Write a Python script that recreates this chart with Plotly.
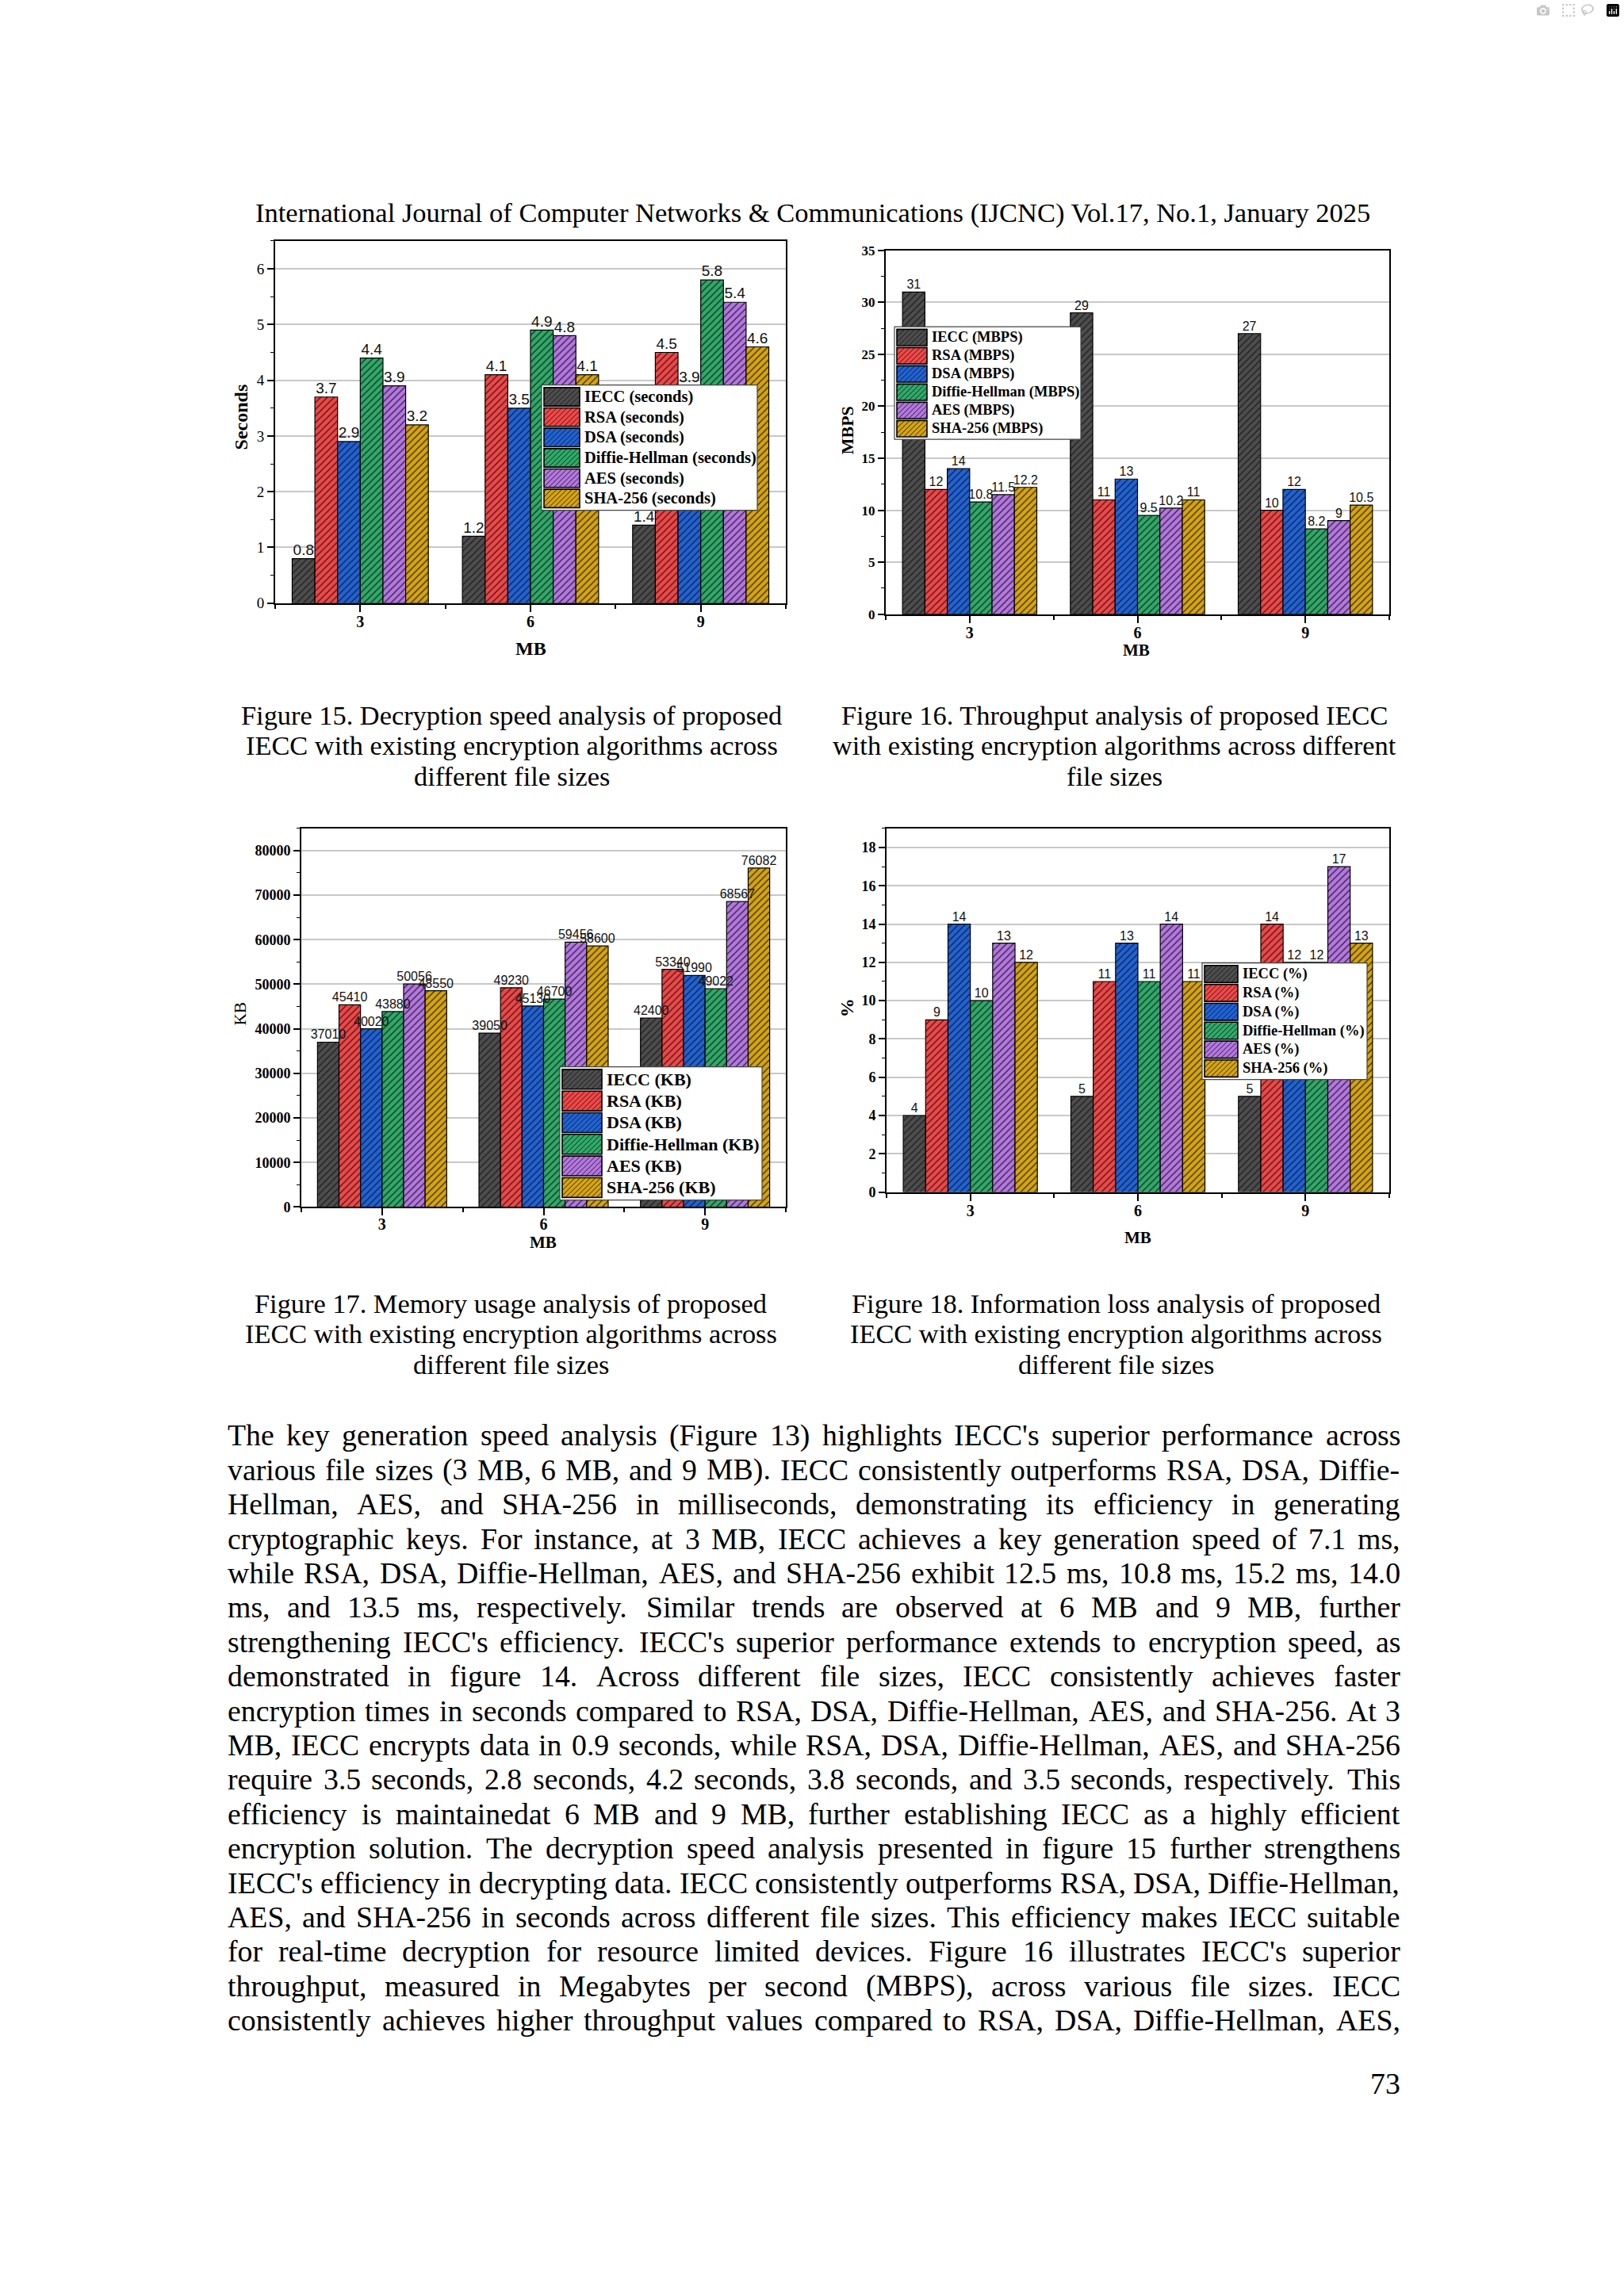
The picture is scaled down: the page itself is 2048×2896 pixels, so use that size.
import plotly.graph_objects as go

PAGE_W, PAGE_H = 2048, 2896

# ---------------- data ----------------
categories = [3, 6, 9]  # MB
series = ['IECC', 'RSA', 'DSA', 'Diffie-Hellman', 'AES', 'SHA-256']
colors = ['#4d4d4d', '#f24646', '#1f62d8', '#2eaa68', '#b476e2', '#d6a40c']

decryption_seconds = [
    [0.8, 1.2, 1.4],
    [3.7, 4.1, 4.5],
    [2.9, 3.5, 3.9],
    [4.4, 4.9, 5.8],
    [3.9, 4.8, 5.4],
    [3.2, 4.1, 4.6],
]
throughput_mbps = [
    [31, 29, 27],
    [12, 11, 10],
    [14, 13, 12],
    [10.8, 9.5, 8.2],
    [11.5, 10.2, 9],
    [12.2, 11, 10.5],
]
memory_kb = [
    [37010, 39050, 42400],
    [45410, 49230, 53340],
    [40020, 45130, 51990],
    [43880, 46700, 49022],
    [50056, 59456, 68567],
    [48550, 58600, 76082],
]
info_loss_pct = [
    [4, 5, 5],
    [9, 11, 14],
    [14, 13, 12],
    [10, 11, 12],
    [13, 14, 17],
    [12, 11, 13],
]

header_text = ("International Journal of Computer Networks &amp; Communications (IJCNC) "
               "Vol.17, No.1, January 2025")
captions = [
    ["Figure 15. Decryption speed analysis of proposed",
     "IECC with existing encryption algorithms across",
     "different file sizes"],
    ["Figure 16. Throughput analysis of proposed IECC",
     "with existing encryption algorithms across different",
     "file sizes"],
    ["Figure 17. Memory usage analysis of proposed",
     "IECC with existing encryption algorithms across",
     "different file sizes"],
    ["Figure 18. Information loss analysis of proposed",
     "IECC with existing encryption algorithms across",
     "different file sizes"],
]
body_lines = [
    "The key generation speed analysis (Figure 13) highlights IECC's superior performance across",
    "various file sizes (3 MB, 6 MB, and 9 MB). IECC consistently outperforms RSA, DSA, Diffie-",
    "Hellman, AES, and SHA-256 in milliseconds, demonstrating its efficiency in generating",
    "cryptographic keys. For instance, at 3 MB, IECC achieves a key generation speed of 7.1 ms,",
    "while RSA, DSA, Diffie-Hellman, AES, and SHA-256 exhibit 12.5 ms, 10.8 ms, 15.2 ms, 14.0",
    "ms, and 13.5 ms, respectively. Similar trends are observed at 6 MB and 9 MB, further",
    "strengthening IECC's efficiency. IECC's superior performance extends to encryption speed, as",
    "demonstrated in figure 14. Across different file sizes, IECC consistently achieves faster",
    "encryption times in seconds compared to RSA, DSA, Diffie-Hellman, AES, and SHA-256. At 3",
    "MB, IECC encrypts data in 0.9 seconds, while RSA, DSA, Diffie-Hellman, AES, and SHA-256",
    "require 3.5 seconds, 2.8 seconds, 4.2 seconds, 3.8 seconds, and 3.5 seconds, respectively. This",
    "efficiency is maintainedat 6 MB and 9 MB, further establishing IECC as a highly efficient",
    "encryption solution. The decryption speed analysis presented in figure 15 further strengthens",
    "IECC's efficiency in decrypting data. IECC consistently outperforms RSA, DSA, Diffie-Hellman,",
    "AES, and SHA-256 in seconds across different file sizes. This efficiency makes IECC suitable",
    "for real-time decryption for resource limited devices. Figure 16 illustrates IECC's superior",
    "throughput, measured in Megabytes per second (MBPS), across various file sizes. IECC",
    "consistently achieves higher throughput values compared to RSA, DSA, Diffie-Hellman, AES,",
]
page_number = "73"

# ---------------- helpers ----------------
def px(x):
    return x / PAGE_W


def py(y):
    return 1 - y / PAGE_H


SERIF = "Liberation Serif"
SANS = "Liberation Sans"

# Times-Roman advance widths (per 1000 em) for text layout
TIMES = {' ': 250, '!': 333, '"': 408, '#': 500, '$': 500, '%': 833, '&': 778, "'": 180,
         '(': 333, ')': 333, '*': 500, '+': 564, ',': 250, '-': 333, '.': 250, '/': 278,
         ':': 278, ';': 278, '=': 564, '?': 444, '@': 921,
         'A': 722, 'B': 667, 'C': 667, 'D': 722, 'E': 611, 'F': 556, 'G': 722, 'H': 722,
         'I': 333, 'J': 389, 'K': 722, 'L': 611, 'M': 889, 'N': 722, 'O': 722, 'P': 556,
         'Q': 722, 'R': 667, 'S': 556, 'T': 611, 'U': 722, 'V': 722, 'W': 944, 'X': 722,
         'Y': 722, 'Z': 611,
         'a': 444, 'b': 500, 'c': 444, 'd': 500, 'e': 444, 'f': 333, 'g': 500, 'h': 500,
         'i': 278, 'j': 278, 'k': 500, 'l': 278, 'm': 778, 'n': 500, 'o': 500, 'p': 500,
         'q': 500, 'r': 333, 's': 389, 't': 278, 'u': 500, 'v': 500, 'w': 722, 'x': 500,
         'y': 500, 'z': 444}
for d in '0123456789':
    TIMES[d] = 500


def em_width(s):
    s = s.replace('&amp;', '&')
    return sum(TIMES.get(ch, 500) for ch in s) / 1000.0


annotations = []
shapes = []


def add_text(text, x, y, size, family=SERIF, bold=False, xanchor='center',
             yanchor='middle', angle=0, color='black'):
    annotations.append(dict(
        text=text, x=px(x), y=py(y), xref='paper', yref='paper', showarrow=False,
        xanchor=xanchor, yanchor=yanchor, textangle=angle, borderpad=0, borderwidth=0,
        font=dict(family=family, size=size, color=color, weight='bold' if bold else 'normal')))


def hatch_path(xa, ya, xb, yb, step):
    # "/" lines: x + y = k in pixel space (y downward)
    parts = []
    k = xa + ya + step / 2.0
    while k < xb + yb:
        x_start = max(xa, k - yb)
        x_end = min(xb, k - ya)
        if x_end > x_start:
            parts.append("M %.5f %.5f L %.5f %.5f" % (px(x_start), py(k - x_start),
                                                    px(x_end), py(k - x_end)))
        k += step
    return " ".join(parts)


def draw_legend(lg, unit):
    x0, x1, y0, y1 = lg['x0'], lg['x1'], lg['y0'], lg['y1']
    shapes.append(dict(type='rect', xref='paper', yref='paper', x0=px(x0), x1=px(x1),
                       y0=py(y1), y1=py(y0), fillcolor='white',
                       line=dict(color='#444444', width=1.2), layer='above'))
    n = len(series)
    row = (y1 - y0 - 4) / n
    sx0, sx1 = x0 + 3, lg['tx'] - 6
    for i, (name, col) in enumerate(zip(series, colors)):
        ry0 = y0 + 2 + i * row + 1.2
        ry1 = y0 + 2 + (i + 1) * row - 1.2
        shapes.append(dict(type='rect', xref='paper', yref='paper', x0=px(sx0), x1=px(sx1),
                           y0=py(ry1), y1=py(ry0), fillcolor=col,
                           line=dict(color='black', width=0), layer='above'))
        shapes.append(dict(type='path', xref='paper', yref='paper',
                           path=hatch_path(sx0, ry0, sx1, ry1, 6.5),
                           line=dict(color='rgba(20,20,20,0.85)', width=1), layer='above'))
        shapes.append(dict(type='rect', xref='paper', yref='paper', x0=px(sx0), x1=px(sx1),
                           y0=py(ry1), y1=py(ry0), fillcolor='rgba(0,0,0,0)',
                           line=dict(color='black', width=1.6), layer='above'))
        add_text("%s (%s)" % (name, unit), lg['tx'], (ry0 + ry1) / 2, lg['size'],
                 bold=True, xanchor='left')


# ---------------- chart specs (layout only) ----------------
BARGAP = 0.2
charts = [
    dict(values=decryption_seconds, unit='seconds', x0=347, x1=991, y0=297, y1=757,
         yrange=[0, 6.5], dtick=1, minor=0.5, ybold=False, ysize=19, lblsize=19,
         ytitle='Seconds', ytitle_xy=(304, 521), ytitle_size=24, ytitle_bold=True,
         mb_xy=(669, 815), mb_size=24, standoff=-5, tickfmt='',
         legend=dict(x0=683, x1=955, y0=480, y1=639, tx=737, size=20.5)),
    dict(values=throughput_mbps, unit='MBPS', x0=1117, x1=1752, y0=309, y1=771,
         yrange=[0, 35], dtick=5, minor=2.5, ybold=True, ysize=17, lblsize=16,
         ytitle='MBPS', ytitle_xy=(1068, 538), ytitle_size=22, ytitle_bold=True,
         mb_xy=(1433, 817), mb_size=21, standoff=-5, tickfmt='',
         legend=dict(x0=1128, x1=1363, y0=406, y1=549, tx=1175, size=18.5)),
    dict(values=memory_kb, unit='KB', x0=380, x1=991, y0=1043, y1=1524,
         yrange=[0, 85000], dtick=10000, minor=5000, ybold=True, ysize=18, lblsize=16,
         ytitle='KB', ytitle_xy=(303, 1279), ytitle_size=21, ytitle_bold=False,
         mb_xy=(685, 1569), mb_size=21, standoff=-6, tickfmt='d',
         legend=dict(x0=706, x1=961, y0=1346, y1=1515, tx=765, size=22)),
    dict(values=info_loss_pct, unit='%', x0=1118, x1=1752, y0=1043, y1=1505,
         yrange=[0, 19], dtick=2, minor=1, ybold=True, ysize=18, lblsize=16,
         ytitle='%', ytitle_xy=(1068, 1271), ytitle_size=24, ytitle_bold=True,
         mb_xy=(1435, 1563), mb_size=21, standoff=-5, tickfmt='',
         legend=dict(x0=1516, x1=1724, y0=1214, y1=1362, tx=1567, size=18.5)),
]

fig = go.Figure()
layout_axes = {}

n_series = len(series)
cat_step = categories[1] - categories[0]
bar_w = cat_step * (1 - BARGAP) / n_series

for ci, ch in enumerate(charts, start=1):
    xa = 'x' if ci == 1 else 'x%d' % ci
    ya = 'y' if ci == 1 else 'y%d' % ci
    for name, col, vals in zip(series, colors, ch['values']):
        fig.add_trace(go.Bar(
            x=categories, y=vals, name="%s (%s)" % (name, ch['unit']),
            xaxis=xa, yaxis=ya, showlegend=False,
            marker=dict(color=col, line=dict(color='black', width=1.2),
                        pattern=dict(shape='/', fgcolor='#151515', fgopacity=0.9,
                                     size=6, solidity=0.2)),
        ))
    # value labels on top of all bars (text layer above the bars)
    for si, vals in enumerate(ch['values']):
        offs = (si - (n_series - 1) / 2.0) * bar_w
        fig.add_trace(go.Scatter(
            x=[c + offs for c in categories], y=vals, mode='text',
            text=["%g" % v for v in vals], textposition='top center',
            textfont=dict(family=SANS, size=ch['lblsize'], color='#111111'),
            xaxis=xa, yaxis=ya, showlegend=False, cliponaxis=False, hoverinfo='skip'))
    xkey = 'xaxis' if ci == 1 else 'xaxis%d' % ci
    ykey = 'yaxis' if ci == 1 else 'yaxis%d' % ci
    layout_axes[xkey] = dict(
        domain=[px(ch['x0']), px(ch['x1'])], anchor=ya, range=[1.5, 10.5],
        tickmode='linear', tick0=3, dtick=3, ticks='outside', ticklen=9, tickwidth=1.6,
        tickcolor='black', ticklabelstandoff=ch['standoff'],
        minor=dict(tickmode='linear', tick0=1.5, dtick=1.5, ticks='outside', ticklen=5,
                   tickwidth=1.6, tickcolor='black', showgrid=False),
        showline=True, linecolor='black', linewidth=2, mirror=True, showgrid=False,
        zeroline=False, fixedrange=True,
        tickfont=dict(family=SERIF, size=20, color='black', weight='bold'))
    layout_axes[ykey] = dict(
        domain=[py(ch['y1']), py(ch['y0'])], anchor=xa, range=ch['yrange'],
        tickmode='linear', tick0=0, dtick=ch['dtick'], ticks='outside', ticklen=8,
        tickwidth=1.6, tickcolor='black', tickformat=ch['tickfmt'],
        minor=dict(tickmode='linear', tick0=0, dtick=ch['minor'], ticks='outside',
                   ticklen=4, tickwidth=1.4, tickcolor='black', showgrid=False),
        showline=True, linecolor='black', linewidth=2, mirror=True,
        showgrid=True, gridcolor='#c8c8c8', gridwidth=1.5, zeroline=False, fixedrange=True,
        tickfont=dict(family=SERIF, size=ch['ysize'], color='black',
                      weight='bold' if ch['ybold'] else 'normal'))
    add_text(ch['ytitle'], ch['ytitle_xy'][0], ch['ytitle_xy'][1], ch['ytitle_size'],
             bold=ch['ytitle_bold'], angle=-90)
    add_text('MB', ch['mb_xy'][0], ch['mb_xy'][1], ch['mb_size'], bold=True)
    draw_legend(ch['legend'], ch['unit'])

# ---------------- page text ----------------
header_size = 1412 / em_width(header_text)
add_text(header_text, 1025, 261, header_size)

cap_size = 671 / em_width(captions[0][1])
cap_centers = [(645, 899), (1405, 899), (644, 1646), (1407, 1646)]
for (cx, cy), lines in zip(cap_centers, captions):
    for j, line in enumerate(lines):
        add_text(line, cx, cy + j * 38.8, cap_size)

BODY_L, BODY_R = 287, 1766
BODY_W = BODY_R - BODY_L
body_size = min(39.0, BODY_W / max(em_width(l) for l in body_lines))
for i, line in enumerate(body_lines):
    words = line.split(' ')
    widths = [em_width(w) * body_size for w in words]
    gap = (BODY_W - sum(widths)) / (len(words) - 1)
    x = BODY_L
    yy = 1814 + i * 43.7
    for w, wd in zip(words, widths):
        add_text(w, x, yy, body_size, xanchor='left')
        x += wd + gap

add_text(page_number, BODY_R, 2637, body_size, xanchor='right')

fig.update_layout(
    width=PAGE_W, height=PAGE_H, margin=dict(l=0, r=0, t=0, b=0),
    paper_bgcolor='white', plot_bgcolor='white', showlegend=False,
    barmode='group', bargap=BARGAP, bargroupgap=0,
    annotations=annotations, shapes=shapes, **layout_axes)

fig.write_html("out.html",
               post_script="document.body.style.margin='0';document.body.style.overflow='hidden';")
